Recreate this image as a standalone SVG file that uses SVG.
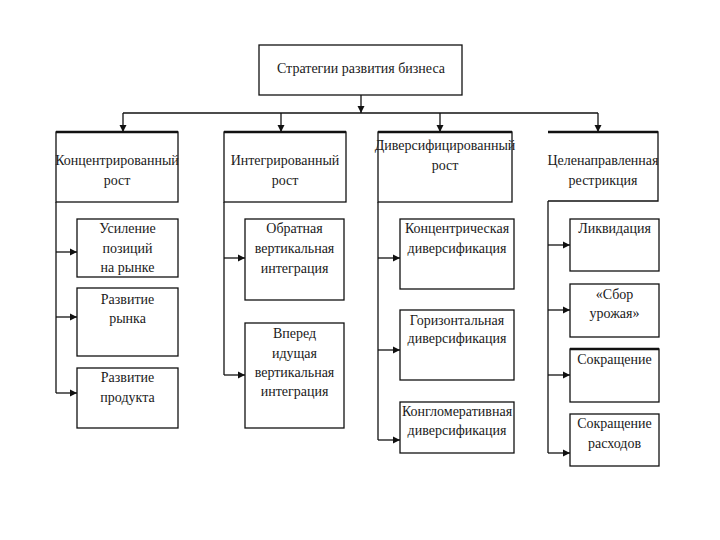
<svg xmlns="http://www.w3.org/2000/svg" width="720" height="540" viewBox="0 0 720 540">
<style>
.box{fill:#fff;stroke:#111;stroke-width:1.3}
.c{stroke:#111;stroke-width:1.3;fill:none}
.thick{stroke:#111;stroke-width:2.6}
text{font-family:"Liberation Serif","Times New Roman",serif;font-size:14px;fill:#1a1a1a;text-anchor:middle}
</style>
<defs>
<marker id="ah" markerUnits="userSpaceOnUse" markerWidth="8" markerHeight="8" refX="7" refY="4" orient="auto">
<path d="M0,0.5 L7,4 L0,7.5 z" fill="#111"/>
</marker>
</defs>
<rect width="720" height="540" fill="#fff"/>
<g id="connectors">
<line class="c" x1="361" y1="95" x2="361" y2="113" marker-end="url(#ah)"/>
<line class="c" x1="123" y1="113" x2="598" y2="113"/>
<line class="c" x1="123" y1="113" x2="123" y2="132" marker-end="url(#ah)"/>
<line class="c" x1="281" y1="113" x2="281" y2="132" marker-end="url(#ah)"/>
<line class="c" x1="440" y1="113" x2="440" y2="132" marker-end="url(#ah)"/>
<line class="c" x1="598" y1="113" x2="598" y2="132" marker-end="url(#ah)"/>
<line class="c" x1="56" y1="202" x2="56" y2="393"/>
<line class="c" x1="56" y1="252" x2="77" y2="252" marker-end="url(#ah)"/>
<line class="c" x1="56" y1="317" x2="77" y2="317" marker-end="url(#ah)"/>
<line class="c" x1="56" y1="393" x2="77" y2="393" marker-end="url(#ah)"/>
<line class="c" x1="224" y1="202" x2="224" y2="375"/>
<line class="c" x1="224" y1="258" x2="245" y2="258" marker-end="url(#ah)"/>
<line class="c" x1="224" y1="375" x2="245" y2="375" marker-end="url(#ah)"/>
<line class="c" x1="378" y1="202" x2="378" y2="440"/>
<line class="c" x1="378" y1="258" x2="400" y2="258" marker-end="url(#ah)"/>
<line class="c" x1="378" y1="350" x2="400" y2="350" marker-end="url(#ah)"/>
<line class="c" x1="378" y1="440" x2="400" y2="440" marker-end="url(#ah)"/>
<line class="c" x1="548" y1="201" x2="548" y2="453"/>
<line class="c" x1="548" y1="245" x2="570" y2="245" marker-end="url(#ah)"/>
<line class="c" x1="548" y1="310" x2="570" y2="310" marker-end="url(#ah)"/>
<line class="c" x1="548" y1="375" x2="570" y2="375" marker-end="url(#ah)"/>
<line class="c" x1="548" y1="453" x2="570" y2="453" marker-end="url(#ah)"/>
</g>
<g id="root">
<rect class="box" x="259" y="45" width="203" height="50"/>
<text x="361" y="73">Стратегии развития бизнеса</text>
</g>
<g id="h1">
<rect class="box" x="56" y="132" width="122" height="70"/>
<line class="thick" x1="56" y1="132" x2="178" y2="132"/>
<text x="117" y="165">Концентрированный</text>
<text x="117" y="185">рост</text>
</g>
<g id="h2">
<rect class="box" x="224" y="132" width="122" height="70"/>
<line class="thick" x1="224" y1="132" x2="346" y2="132"/>
<text x="285" y="165">Интегрированный</text>
<text x="285" y="185">рост</text>
</g>
<g id="h3">
<rect class="box" x="378" y="132" width="134" height="70"/>
<line class="thick" x1="378" y1="132" x2="512" y2="132"/>
<text x="445" y="150">Диверсифицированный</text>
<text x="445" y="170">рост</text>
</g>
<g id="h4">
<path class="c" d="M548,132 H658 V201 H548"/>
<line class="thick" x1="548" y1="132" x2="658" y2="132"/>
<text x="603" y="165">Целенаправленная</text>
<text x="603" y="185">рестрикция</text>
</g>
<g id="c1a">
<rect class="box" x="77" y="219" width="101" height="58"/>
<text x="127.5" y="233">Усиление</text>
<text x="127.5" y="253">позиций</text>
<text x="127.5" y="272">на рынке</text>
</g>
<g id="c1b">
<rect class="box" x="77" y="288" width="101" height="68"/>
<text x="127.5" y="304">Развитие</text>
<text x="127.5" y="323">рынка</text>
</g>
<g id="c1c">
<rect class="box" x="77" y="368" width="101" height="60"/>
<text x="127.5" y="382">Развитие</text>
<text x="127.5" y="402">продукта</text>
</g>
<g id="c2a">
<rect class="box" x="245" y="219" width="99" height="81"/>
<text x="294.5" y="233">Обратная</text>
<text x="294.5" y="253">вертикальная</text>
<text x="294.5" y="273">интеграция</text>
</g>
<g id="c2b">
<rect class="box" x="245" y="323" width="99" height="105"/>
<text x="294.5" y="338">Вперед</text>
<text x="294.5" y="358">идущая</text>
<text x="294.5" y="377">вертикальная</text>
<text x="294.5" y="396">интеграция</text>
</g>
<g id="c3a">
<rect class="box" x="400" y="219" width="114" height="70"/>
<text x="457" y="233">Концентрическая</text>
<text x="457" y="253">диверсификация</text>
</g>
<g id="c3b">
<rect class="box" x="400" y="310" width="114" height="70"/>
<text x="457" y="325">Горизонтальная</text>
<text x="457" y="343">диверсификация</text>
</g>
<g id="c3c">
<rect class="box" x="400" y="402" width="114" height="51"/>
<text x="457" y="416">Конгломеративная</text>
<text x="457" y="435">диверсификация</text>
</g>
<g id="c4a">
<rect class="box" x="570" y="219" width="89" height="52"/>
<text x="614.5" y="233">Ликвидация</text>
</g>
<g id="c4b">
<rect class="box" x="570" y="284" width="89" height="53"/>
<text x="614.5" y="299">«Сбор</text>
<text x="614.5" y="318">урожая»</text>
</g>
<g id="c4c">
<rect class="box" x="570" y="349" width="89" height="53"/>
<line class="thick" x1="570" y1="349" x2="659" y2="349"/>
<text x="614.5" y="364">Сокращение</text>
</g>
<g id="c4d">
<rect class="box" x="570" y="414" width="89" height="52"/>
<text x="614.5" y="428">Сокращение</text>
<text x="614.5" y="448">расходов</text>
</g>
</svg>
